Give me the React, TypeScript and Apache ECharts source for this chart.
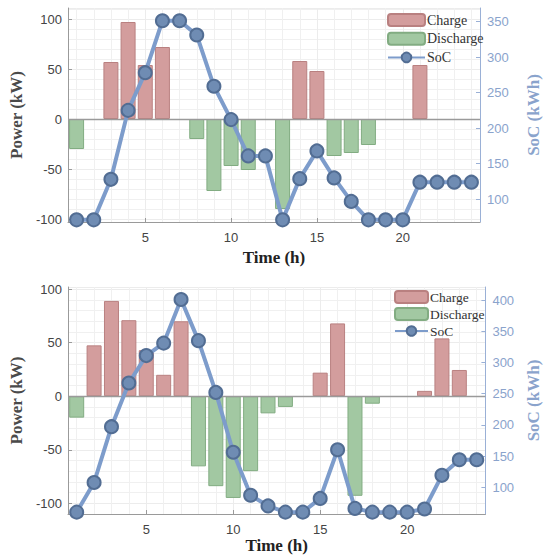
import React, { useEffect, useRef } from "react";
import * as echarts from "echarts";

const hours = [1, 2, 3, 4, 5, 6, 7, 8, 9, 10, 11, 12, 13, 14, 15, 16, 17, 18, 19, 20, 21, 22, 23, 24];

const topPower = [-30, 0, 57, 97, 54, 72, 0, -20, -72, -47, -51, 0, -90, 58, 48, -37, -34, -26, 0, 0, 54, 0, 0, 0];
const topSoC = [71, 71, 128, 225, 278, 351, 351, 331, 259, 212, 161, 161, 71, 129, 168, 130, 97, 71, 71, 71, 124, 124, 124, 124];

const botPower = [-20, 47.5, 89, 71, 43, 20, 70, -65.5, -84, -95, -70, -16, -10, 0, 22, 68, -93, -7, 0, 0, 5, 54, 24.5, 0];
const botSoC = [60, 107.5, 197, 267, 311, 331, 401, 335, 252, 156, 87, 70, 60, 60, 82, 160, 66, 60, 60, 60, 65, 119, 144, 144];

const SANS = "Liberation Sans";
const SERIF = "Liberation Serif";
const SOC_AXIS = "#9ab0d6";
const SOC_LABEL = "#8aa3cc";

function xAxisCfg(gridIndex: number, nameGap: number) {
  return {
    type: "value",
    gridIndex,
    min: 0.5,
    max: 24.5,
    minInterval: 5,
    maxInterval: 5,
    name: "Time (h)",
    nameLocation: "middle",
    nameGap,
    nameTextStyle: { fontFamily: SERIF, fontWeight: "bold", fontSize: 17, color: "#222" },
    axisLine: { onZero: false, lineStyle: { color: "#9a9a9a", width: 1 } },
    axisTick: { inside: true, length: 4, lineStyle: { color: "#9a9a9a" } },
    axisLabel: { showMinLabel: false, showMaxLabel: false, margin: 9, fontFamily: SANS, fontSize: 13, color: "#444" },
    splitLine: { show: true, lineStyle: { color: "#ececec", width: 1 } },
    minorTick: { show: false, splitNumber: 5 },
    minorSplitLine: { show: true, lineStyle: { color: "#f0f0f0", width: 1 } },
  };
}

function leftAxisCfg(gridIndex: number, min: number, max: number) {
  return {
    type: "value",
    gridIndex,
    min,
    max,
    minInterval: 50,
    maxInterval: 50,
    name: "Power (kW)",
    nameLocation: "middle",
    nameGap: 43,
    nameRotate: 90,
    nameTextStyle: { fontFamily: SERIF, fontWeight: "bold", fontSize: 17, color: "#4a4a4a" },
    axisLine: { show: true, onZero: false, lineStyle: { color: "#9a9a9a", width: 1 } },
    axisTick: { show: true, inside: true, length: 4, lineStyle: { color: "#9a9a9a" } },
    axisLabel: { showMinLabel: false, showMaxLabel: false, margin: 6, fontFamily: SANS, fontSize: 13, color: "#444" },
    splitLine: { show: true, lineStyle: { color: "#ececec", width: 1 } },
    minorTick: { show: false, splitNumber: 5 },
    minorSplitLine: { show: true, lineStyle: { color: "#f0f0f0", width: 1 } },
  };
}

function rightAxisCfg(gridIndex: number, min: number, max: number, nameGap: number) {
  return {
    type: "value",
    gridIndex,
    position: "right",
    min,
    max,
    minInterval: 50,
    maxInterval: 50,
    name: "SoC (kWh)",
    nameLocation: "middle",
    nameGap,
    nameRotate: 90,
    nameTextStyle: { fontFamily: SERIF, fontWeight: "bold", fontSize: 17, color: SOC_LABEL },
    axisLine: { show: true, onZero: false, lineStyle: { color: SOC_AXIS, width: 1 } },
    axisTick: { show: true, inside: true, length: 4, lineStyle: { color: SOC_AXIS } },
    axisLabel: { showMinLabel: false, showMaxLabel: false, margin: 7, fontFamily: SANS, fontSize: 13, color: SOC_LABEL },
    splitLine: { show: false },
  };
}

function seriesFor(idx: number, power: number[], soc: number[]) {
  const charge = hours.map((h, i) => (power[i] > 0 ? [h, power[i]] : null)).filter((d) => d !== null);
  const discharge = hours.map((h, i) => (power[i] < 0 ? [h, power[i]] : null)).filter((d) => d !== null);
  const socData = hours.map((h, i) => [h, soc[i]]);
  return [
    {
      name: "Charge",
      type: "bar",
      xAxisIndex: idx,
      yAxisIndex: idx * 2,
      stack: "p" + idx,
      barWidth: 15,
      data: charge,
      itemStyle: { color: "#d39d9d", borderColor: "#b98080", borderWidth: 1 },
      markLine: {
        silent: true,
        symbol: "none",
        label: { show: false },
        lineStyle: { color: "#9a9a9a", width: 1.3, type: "solid" },
        data: [{ yAxis: 0 }],
      },
      z: 2,
    },
    {
      name: "Discharge",
      type: "bar",
      xAxisIndex: idx,
      yAxisIndex: idx * 2,
      stack: "p" + idx,
      barWidth: 15,
      data: discharge,
      itemStyle: { color: "#a2c8a2", borderColor: "#82ac82", borderWidth: 1 },
      z: 2,
    },
    {
      name: "SoC",
      type: "line",
      xAxisIndex: idx,
      yAxisIndex: idx * 2 + 1,
      data: socData,
      symbol: "circle",
      symbolSize: 13,
      lineStyle: { color: "#7d9ccb", width: 4 },
      itemStyle: { color: "#6f8cb3", borderColor: "#526d93", borderWidth: 2 },
      z: 5,
    },
  ];
}

function legendCfg(left: number, top: number, itemWidth: number, itemGap: number, fontSize: number) {
  return {
    orient: "vertical",
    left,
    top,
    itemWidth,
    itemHeight: 12,
    itemGap,
    padding: 0,
    data: ["Charge", "Discharge", "SoC"],
    textStyle: { fontFamily: SERIF, fontSize, color: "#333", padding: [0, 0, 0, -3] },
  };
}

export default function App() {
  const ref = useRef<HTMLDivElement>(null);
  useEffect(() => {
    if (!ref.current) return;
    const chart = echarts.init(ref.current, undefined, { renderer: "svg" });
    const topSeries = seriesFor(0, topPower, topSoC);
    const botSeries = seriesFor(1, botPower, botSoC);
    chart.setOption({
      animation: false,
      backgroundColor: "#ffffff",
      grid: [
        { left: 59, top: 8, width: 436, height: 214 },
        { left: 59, top: 287, width: 435, height: 227 },
      ],
      xAxis: [xAxisCfg(0, 27), xAxisCfg(1, 22)],
      yAxis: [
        leftAxisCfg(0, -103, 111),
        rightAxisCfg(0, 68, 369, 45),
        leftAxisCfg(1, -110, 102),
        rightAxisCfg(1, 57, 421, 39),
      ],
      legend: [legendCfg(387, 13, 37, 4.7, 14), legendCfg(394, 290, 33, 3, 13.5)],
      series: [...topSeries, ...botSeries],
    });
    return () => chart.dispose();
  }, []);
  return <div ref={ref} style={{ position: "absolute", left: 0, top: 0, width: 550, height: 560 }} />;
}
